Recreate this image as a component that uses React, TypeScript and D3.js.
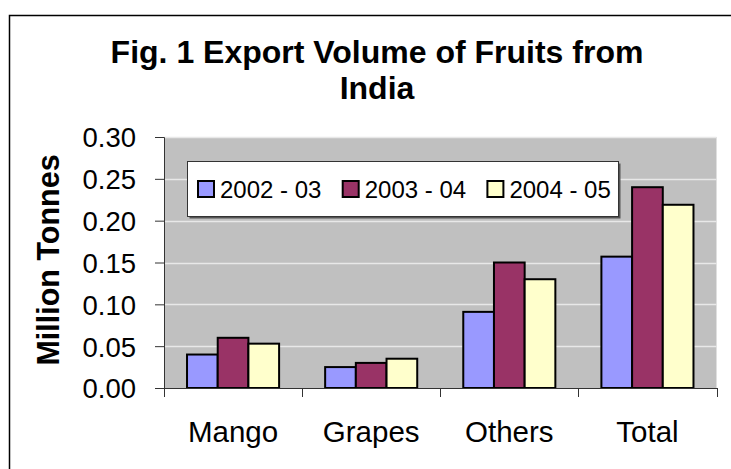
import { useEffect, useRef } from "react";
import * as d3 from "d3";

const categories = ["Mango", "Grapes", "Others", "Total"];
const seriesNames = ["2002 - 03", "2003 - 04", "2004 - 05"];
const values2002 = [0.04, 0.025, 0.091, 0.157];
const values2003 = [0.06, 0.03, 0.15, 0.24];
const values2004 = [0.053, 0.035, 0.13, 0.219];
const yTicks = [0, 0.05, 0.1, 0.15, 0.2, 0.25, 0.3];
const colors = ["#9999FF", "#993366", "#FFFFCC"];

const W = 731;
const H = 469;
const font = "Arial, 'Liberation Sans', sans-serif";

const App = () => {
  const ref = useRef<SVGSVGElement>(null);

  useEffect(() => {
    const svg = d3.select(ref.current);
    svg.selectAll("*").remove();

    const series = [values2002, values2003, values2004];
    const plot = { left: 164, right: 716.5, top: 137, bottom: 388 };

    // outer frame
    svg.append("rect")
      .attr("x", 9.5).attr("y", 15.5)
      .attr("width", W + 20).attr("height", H + 20)
      .attr("fill", "white").attr("stroke", "#000").attr("stroke-width", 1.5);

    // title
    const title = svg.append("text")
      .attr("text-anchor", "middle")
      .style("font-family", font).style("font-weight", 700).style("font-size", "32px");
    title.append("tspan").attr("x", 377).attr("y", 63).text("Fig. 1 Export Volume of Fruits from");
    title.append("tspan").attr("x", 377).attr("y", 99).text("India");

    const x0 = d3.scaleBand().domain(categories).range([plot.left, plot.right]).padding(0);
    const x1 = d3.scaleBand().domain(seriesNames).range([0, x0.bandwidth()])
      .paddingInner(0).paddingOuter(0.75);
    const y = d3.scaleLinear().domain([0, 0.3]).range([plot.bottom, plot.top]);

    // plot area
    svg.append("rect")
      .attr("x", plot.left).attr("y", plot.top)
      .attr("width", plot.right - plot.left).attr("height", plot.bottom - plot.top)
      .attr("fill", "#C0C0C0");

    svg.append("g")
      .selectAll("line")
      .data(yTicks.slice(1))
      .enter()
      .append("line")
      .attr("x1", plot.left).attr("x2", plot.right)
      .attr("y1", (d) => Math.round(y(d)) + 0.5).attr("y2", (d) => Math.round(y(d)) + 0.5)
      .attr("stroke", "#E8E8E8").attr("stroke-width", 1.5);

    // bars
    seriesNames.forEach((name, si) => {
      svg.append("g")
        .selectAll("rect")
        .data(series[si])
        .enter()
        .append("rect")
        .attr("x", (d, i) => (x0(categories[i]) as number) + (x1(name) as number))
        .attr("y", (d) => y(d))
        .attr("width", x1.bandwidth())
        .attr("height", (d) => y(0) - y(d))
        .attr("fill", colors[si])
        .attr("stroke", "#000")
        .attr("stroke-width", 2);
    });

    // y axis
    const yAxis = svg.append("g")
      .attr("transform", `translate(${plot.left},0)`)
      .call(d3.axisLeft(y).tickValues(yTicks).tickSize(9).tickPadding(19).tickFormat(d3.format(".2f")));
    yAxis.select(".domain").attr("stroke", "#333").attr("stroke-width", 1);
    yAxis.selectAll(".tick line").attr("stroke", "#333");
    yAxis.selectAll("text")
      .style("font-family", font).style("font-size", "27.5px").attr("fill", "#000").attr("dy", "0.36em");

    // x axis
    const xAxis = svg.append("g")
      .attr("transform", `translate(0,${plot.bottom})`)
      .call(d3.axisBottom(x0).tickSize(0).tickPadding(0));
    xAxis.select(".domain").attr("stroke", "#333").attr("stroke-width", 1);
    xAxis.selectAll("text")
      .attr("y", 54).attr("dy", 0)
      .style("font-family", font).style("font-size", "29.5px").attr("fill", "#000");
    xAxis.selectAll(".sep")
      .data([...categories.map((c) => x0(c) as number), plot.right])
      .enter()
      .append("line")
      .attr("class", "sep")
      .attr("x1", (d) => Math.round(d) + 0.5).attr("x2", (d) => Math.round(d) + 0.5)
      .attr("y1", 0).attr("y2", 9)
      .attr("stroke", "#333");

    // y label
    svg.append("text")
      .attr("transform", `translate(59,260) rotate(-90)`)
      .attr("text-anchor", "middle")
      .style("font-family", font).style("font-weight", 700).style("font-size", "30.5px")
      .text("Million Tonnes");

    // legend
    const lg = { x: 187.5, y: 161.5, w: 431, h: 55 };
    svg.append("rect")
      .attr("x", lg.x + 2).attr("y", lg.y + 2).attr("width", lg.w).attr("height", lg.h)
      .attr("fill", "#555");
    svg.append("rect")
      .attr("x", lg.x).attr("y", lg.y).attr("width", lg.w).attr("height", lg.h)
      .attr("fill", "white").attr("stroke", "#333").attr("stroke-width", 1);
    const items = svg.append("g")
      .selectAll("g")
      .data(seriesNames)
      .enter()
      .append("g")
      .attr("transform", (d, i) => `translate(${198 + i * 144.7},181)`);
    items.append("rect")
      .attr("width", 16).attr("height", 16)
      .attr("fill", (d, i) => colors[i]).attr("stroke", "#000").attr("stroke-width", 2);
    items.append("text")
      .attr("x", 22).attr("y", 16.5)
      .style("font-family", font).style("font-size", "24px")
      .text((d) => d);
  }, []);

  return (
    <svg
      ref={ref}
      width={W}
      height={H}
      style={{ position: "absolute", left: 0, top: 0, background: "white" }}
    />
  );
};

export default App;
